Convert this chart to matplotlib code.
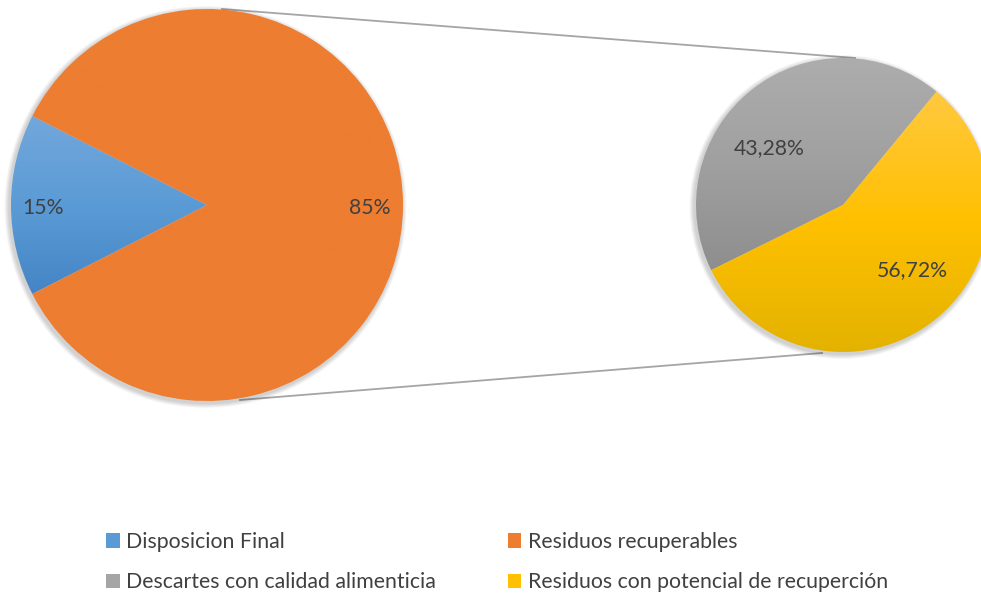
import numpy as np
import matplotlib.pyplot as plt
from matplotlib.patches import Patch
from matplotlib import font_manager
from matplotlib.colors import LinearSegmentedColormap

# data
main_labels = ['Disposicion Final', 'Residuos recuperables']
main_values = [15, 85]
main_text = ['15%', '85%']

sub_labels = ['Descartes con calidad alimenticia', 'Residuos con potencial de recuperción']
sub_values = [43.28, 56.72]
sub_text = ['43,28%', '56,72%']

# gradient colours (top -> bottom) per slice
main_colors = [['#72A7DC', '#5B9BD5', '#4585C6'], ['#ED7D31', '#ED7D31']]
sub_colors = [['#ADADAD', '#A0A0A0', '#8E8E8E'], ['#FFC940', '#FFC000', '#E3B200']]
legend_colors = ['#5B9BD5', '#ED7D31', '#A5A5A5', '#FFC000']

fonts = {f.name for f in font_manager.fontManager.ttflist}
fam = 'Lato' if 'Lato' in fonts else 'DejaVu Sans'
plt.rcParams['font.family'] = [fam, 'DejaVu Sans']

W, H = 981, 598
fig = plt.figure(figsize=(W / 100, H / 100), dpi=100)
ax = fig.add_axes([0, 0, 1, 1])


def gradient_pie(values, colors, center, radius, start):
    wedges, _ = ax.pie(values, center=center, radius=radius, startangle=start,
                       counterclock=True, frame=True,
                       wedgeprops=dict(linewidth=0, edgecolor='none'))
    cx, cy = center
    for w, cols in zip(wedges, colors):
        # gradient spans the slice's own vertical extent, like Excel
        verts = w.get_path().vertices
        y0, y1 = verts[:, 1].min(), verts[:, 1].max()
        cmap = LinearSegmentedColormap.from_list('g', cols)
        grad = np.linspace(0, 1, 256)[:, None]
        im = ax.imshow(grad, cmap=cmap, extent=[cx - radius, cx + radius, y0, y1],
                       origin='upper', aspect='auto', zorder=2, vmin=0, vmax=1)
        im.set_clip_path(w)
        w.set_facecolor('none')
    return wedges


# soft shadow behind pies
for cx, cy, r in [(207, 393, 196), (843, 393, 147)]:
    for k in range(6):
        c = plt.Circle((cx - 1.5, cy - 2), r + 1 + k * 0.8, color='k',
                       alpha=0.03, lw=0, zorder=1)
        ax.add_patch(c)

gradient_pie(main_values, main_colors, (207, 393), 196, 153)
gradient_pie(sub_values, sub_colors, (843, 393), 147, 50.5)

ax.set_xlim(0, W)
ax.set_ylim(0, H)
ax.set_aspect('equal')
ax.axis('off')

# connector lines
ax.plot([222, 855], [H - 9, H - 58], color='#A5A5A5', lw=1.3, zorder=0.5)
ax.plot([240, 822], [H - 400, H - 353], color='#A5A5A5', lw=1.3, zorder=0.5)

# data labels
tcol = '#404040'
fs = 15.3
ax.text(43, H - 208, main_text[0], ha='center', va='center', color=tcol, fontsize=fs, zorder=5)
ax.text(370, H - 208, main_text[1], ha='center', va='center', color=tcol, fontsize=fs, zorder=5)
ax.text(769, H - 148, sub_text[0], ha='center', va='center', color=tcol, fontsize=fs, zorder=5)
ax.text(912, H - 270, sub_text[1], ha='center', va='center', color=tcol, fontsize=fs, zorder=5)

# legend
handles = [Patch(facecolor=legend_colors[0], label=main_labels[0]),
           Patch(facecolor=legend_colors[2], label=sub_labels[0]),
           Patch(facecolor=legend_colors[1], label=main_labels[1]),
           Patch(facecolor=legend_colors[3], label=sub_labels[1])]
leg = fig.legend(handles=handles, ncol=2, loc='upper left',
                 bbox_to_anchor=(106 / W, 1 - 532 / H), frameon=False,
                 fontsize=15.3, handlelength=0.65, handleheight=0.65,
                 handletextpad=0.3, columnspacing=3.37, labelspacing=0.95,
                 borderpad=0, borderaxespad=0)
for t in leg.get_texts():
    t.set_color(tcol)

fig.savefig('out.png', dpi=100)
